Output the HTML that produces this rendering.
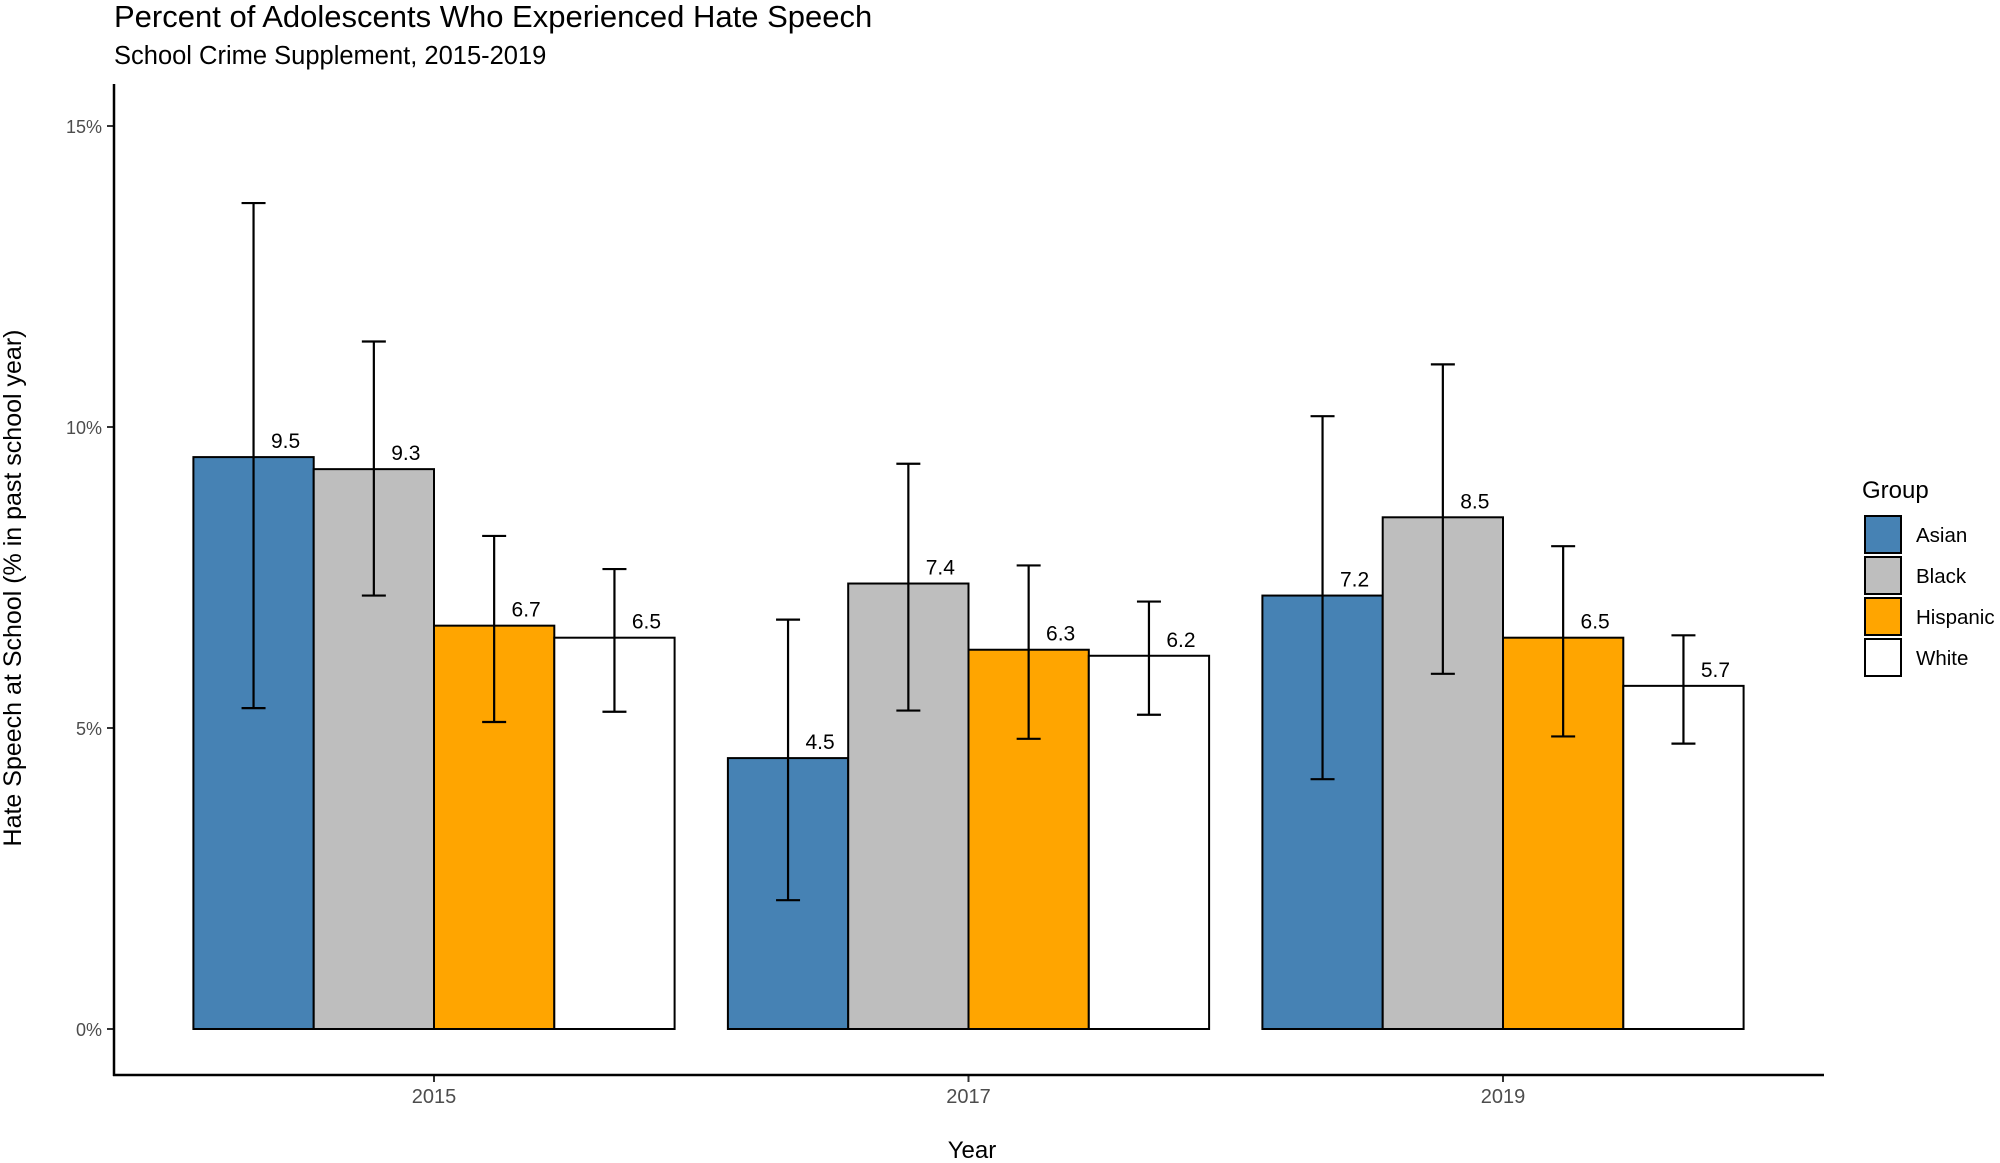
<!DOCTYPE html>
<html><head><meta charset="utf-8"><style>
body{margin:0;background:#fff;}
svg{display:block;font-family:"Liberation Sans",Arial,sans-serif;}
</style></head><body>
<svg id="chart" width="2000" height="1163" viewBox="0 0 2000 1163">
<text x="114" y="27" font-size="31" fill="#000">Percent of Adolescents Who Experienced Hate Speech</text>
<text x="114" y="64" font-size="25.5" fill="#000">School Crime Supplement, 2015-2019</text>
<g id="plot"></g>
<line x1="114" y1="84" x2="114" y2="1076" stroke="#000" stroke-width="2.5"/>
<line x1="113" y1="1075" x2="1824" y2="1075" stroke="#000" stroke-width="2.5"/>
<text transform="translate(21,588) rotate(-90)" text-anchor="middle" font-size="25" fill="#000">Hate Speech at School (% in past school year)</text>
<text x="972" y="1158" text-anchor="middle" font-size="24" fill="#000">Year</text>
<text x="1862" y="498" font-size="24" fill="#000">Group</text>
<g id="legend"></g>
</svg>
<script>
const years = ["2015","2017","2019"];
const groups = ["Asian","Black","Hispanic","White"];
const colors = ["#4682b4","#bebebe","#ffa500","#ffffff"];
const asianVals = [9.5,4.5,7.2];
const blackVals = [9.3,7.4,8.5];
const hispanicVals = [6.7,6.3,6.5];
const whiteVals = [6.5,6.2,5.7];
const asianLo = [5.33,2.14,4.15], asianHi = [13.72,6.8,10.18];
const blackLo = [7.2,5.29,5.9], blackHi = [11.42,9.39,11.04];
const hispanicLo = [5.1,4.82,4.86], hispanicHi = [8.19,7.7,8.02];
const whiteLo = [5.27,5.22,4.74], whiteHi = [7.64,7.1,6.54];
const yTicks = [0,5,10,15];
const yTickLabels = ["0%","5%","10%","15%"];

const series = [asianVals,blackVals,hispanicVals,whiteVals];
const los = [asianLo,blackLo,hispanicLo,whiteLo];
const his = [asianHi,blackHi,hispanicHi,whiteHi];
const NS="http://www.w3.org/2000/svg";
const y = v => 1029 - v*60.2;
const xCenter = i => 434 + i*534.5;
const barW = 120.3;
const plot = document.getElementById('plot');
function mk(tag, attrs){const e=document.createElementNS(NS,tag);for(const k in attrs)e.setAttribute(k,attrs[k]);return e;}

yTicks.forEach((t,i)=>{
  const l=mk('line',{x1:107,x2:114,y1:y(t),y2:y(t),stroke:'#333','stroke-width':2});
  
  
  plot.appendChild(l);
  const tx=mk('text',{x:102,y:y(t)+7,'text-anchor':'end','font-size':18,fill:'#4d4d4d'});
  tx.textContent=yTickLabels[i];
  
  
  plot.appendChild(tx);
});
years.forEach((yr,i)=>{
  const l=mk('line',{x1:xCenter(i),x2:xCenter(i),y1:1075,y2:1082,stroke:'#333','stroke-width':2});
  
  
  plot.appendChild(l);
  const tx=mk('text',{x:xCenter(i),y:1103,'text-anchor':'middle','font-size':20,fill:'#4d4d4d'});
  tx.textContent=yr;
  
  
  plot.appendChild(tx);
});
years.forEach((yr,i)=>{
  groups.forEach((g,j)=>{
    const v=series[j][i];
    const x0=xCenter(i)-2*barW+j*barW;
    const r=mk('rect',{x:x0,y:y(v),width:barW,height:y(0)-y(v),fill:colors[j],stroke:'#000','stroke-width':2});
    
    
    plot.appendChild(r);
  });
  groups.forEach((g,j)=>{
    const cx=xCenter(i)-2*barW+j*barW+barW/2;
    const lo=los[j][i], hi=his[j][i];
    const eg=mk('g',{stroke:'#000','stroke-width':2.2,fill:'none'});
    
    
    eg.appendChild(mk('line',{x1:cx,x2:cx,y1:y(hi),y2:y(lo)}));
    eg.appendChild(mk('line',{x1:cx-12,x2:cx+12,y1:y(hi),y2:y(hi)}));
    eg.appendChild(mk('line',{x1:cx-12,x2:cx+12,y1:y(lo),y2:y(lo)}));
    plot.appendChild(eg);
    const v=series[j][i];
    const tx=mk('text',{x:cx+32,y:y(v)-9,'text-anchor':'middle','font-size':21,fill:'#000'});
    tx.textContent=v.toFixed(1);
    
    
    plot.appendChild(tx);
  });
});
const leg=document.getElementById('legend');
groups.forEach((g,j)=>{
  const yy=516+j*41;
  const r=mk('rect',{x:1865,y:yy,width:36,height:37,fill:colors[j],stroke:'#000','stroke-width':2});
  
  
  leg.appendChild(r);
  const tx=mk('text',{x:1916,y:yy+26,'font-size':20.5,fill:'#000'});
  tx.textContent=g;
  
  
  leg.appendChild(tx);
});
</script>
</body></html>
